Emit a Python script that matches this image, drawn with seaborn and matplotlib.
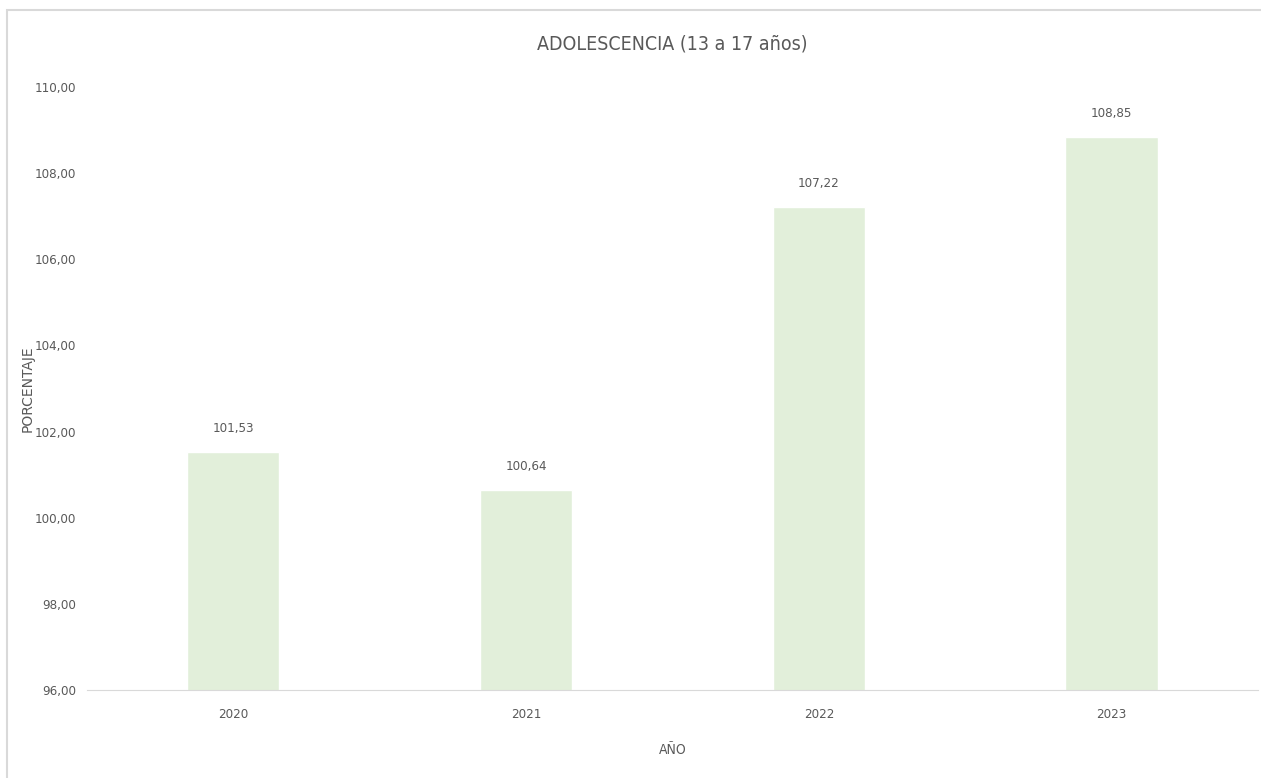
import pandas as pd
import matplotlib.pyplot as plt
import seaborn as sns
from matplotlib.patches import Rectangle

# Datos
years = ['2020', '2021', '2022', '2023']
values = [101.53, 100.64, 107.22, 108.85]
yticks = [96, 98, 100, 102, 104, 106, 108, 110]

data = pd.DataFrame({'AÑO': years, 'PORCENTAJE': values})

sns.set_style('white')
plt.rcParams['font.family'] = ['DejaVu Sans']
plt.rcParams['font.stretch'] = 'condensed'
gray = '#595959'

fig = plt.figure(figsize=(12.61, 7.78), dpi=100)
ax = fig.add_axes([0.069, 0.1131, 0.9286, 0.7751])

sns.barplot(x='AÑO', y='PORCENTAJE', data=data, color='#E2EFDA', width=0.315,
            saturation=1, ax=ax)

ax.set_ylim(96, 110)
ax.set_yticks(yticks)
ax.set_yticklabels([f'{t:.2f}'.replace('.', ',') for t in yticks])
ax.tick_params(axis='both', colors=gray, labelsize=9.5, length=0)
ax.tick_params(axis='y', pad=8)
ax.tick_params(axis='x', pad=13)

for i, v in enumerate(values):
    ax.annotate(f'{v:.2f}'.replace('.', ','), (i, v), xytext=(0, 12),
                textcoords='offset points', ha='center', va='bottom',
                fontsize=9.5, color=gray)

for side in ['top', 'right', 'left']:
    ax.spines[side].set_visible(False)
ax.spines['bottom'].set_color('#D9D9D9')

ax.set_title('ADOLESCENCIA (13 a 17 años)', fontsize=14, color=gray, pad=27)
ax.set_xlabel('AÑO', fontsize=10, color=gray, labelpad=16)
ax.set_ylabel('PORCENTAJE', fontsize=10, color=gray, fontstretch='normal')
ax.yaxis.set_label_coords(-0.045, 0.5)

# Borde del gráfico
fig.patches.append(Rectangle((7 / 1261, -0.1), 1.2, 1 - 10 / 778 + 0.1,
                             transform=fig.transFigure, fill=False,
                             edgecolor='#D9D9D9', linewidth=1.5))

fig.savefig('out.png', dpi=100)
